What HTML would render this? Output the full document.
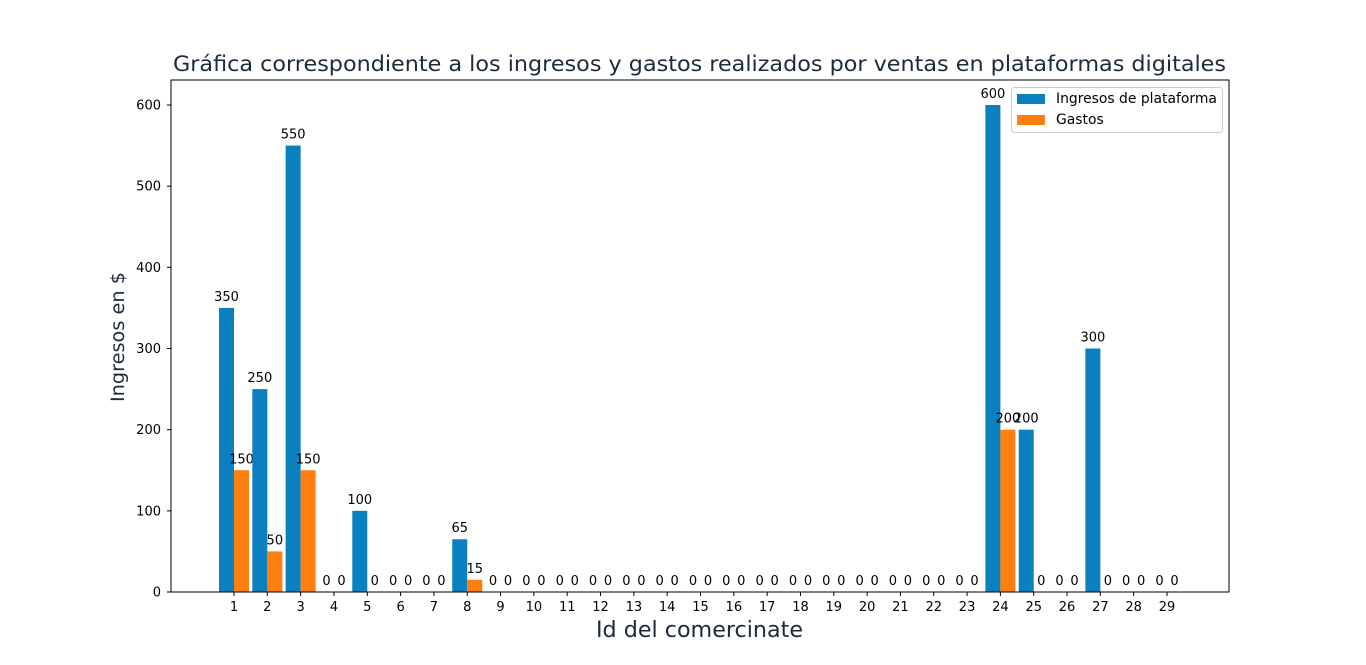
<!DOCTYPE html>
<html><head><meta charset="utf-8"><style>
body{margin:0;background:#fff;}
svg{display:block;font-family:"DejaVu Sans","Liberation Sans",sans-serif;}
</style></head><body>
<svg id="chart" width="1366" height="665">
<text x="173" y="71" font-size="21" fill="#1c2b3c" textLength="1053" lengthAdjust="spacingAndGlyphs">Gráfica correspondiente a los ingresos y gastos realizados por ventas en plataformas digitales</text>
<text transform="translate(124,337) rotate(-90)" text-anchor="middle" font-size="19" fill="#1c2b3c" textLength="130" lengthAdjust="spacingAndGlyphs">Ingresos en $</text>
<text x="699.5" y="637" text-anchor="middle" font-size="22" fill="#1c2b3c" textLength="207" lengthAdjust="spacingAndGlyphs">Id del comercinate</text>
<g id="marks"></g>
<rect x="171" y="80" width="1058" height="512" fill="none" stroke="#000" stroke-width="1"/>
<g>
<rect x="1011.5" y="87.5" width="211" height="45" rx="3" fill="#fff" fill-opacity="0.8" stroke="#ccc"/>
<rect x="1017" y="94" width="28" height="10" fill="#0a80c0"/>
<text x="1056" y="103" font-size="13.9">Ingresos de plataforma</text>
<rect x="1017" y="115" width="28" height="10" fill="#ff7f0e"/>
<text x="1056" y="124" font-size="13.9">Gastos</text>
</g>
</svg>
<script>
const categories=[1,2,3,4,5,6,7,8,9,10,11,12,13,14,15,16,17,18,19,20,21,22,23,24,25,26,27,28,29];
const ingresos=[350,250,550,0,100,0,0,65,0,0,0,0,0,0,0,0,0,0,0,0,0,0,0,600,200,0,300,0,0];
const gastos=[150,50,150,0,0,0,0,15,0,0,0,0,0,0,0,0,0,0,0,0,0,0,0,200,0,0,0,0,0];
const yTicks=[0,100,200,300,400,500,600];
const NS="http://www.w3.org/2000/svg";
const g=document.getElementById('marks');
const xOf=i=>234+(i-1)*(933/28);
const yOf=v=>592-v*(487/600);
const bw=15;
function mk(t,a){const e=document.createElementNS(NS,t);for(const k in a)e.setAttribute(k,a[k]);g.appendChild(e);return e;}
yTicks.forEach(v=>{
 const l=mk('line',{x1:167,x2:171,y1:yOf(v),y2:yOf(v),stroke:'#000'});
 
 
 const t=mk('text',{x:161,y:yOf(v)+4.5,'text-anchor':'end','font-size':13});
 t.textContent=v;
 
 
});
categories.forEach((c,i)=>{
 const x=xOf(c);
 const l=mk('line',{x1:x,x2:x,y1:592,y2:596,stroke:'#000'});
 
 
 const t=mk('text',{x:x,y:611,'text-anchor':'middle','font-size':13});
 t.textContent=c;
 
 
 [[ingresos[i],x-bw,'#0a80c0','bar-ingresos'],[gastos[i],x,'#ff7f0e','bar-gastos']].forEach(([v,bx,col,nm])=>{
  const r=mk('rect',{x:bx,y:yOf(v),width:bw,height:592-yOf(v),fill:col});
  
  
  const lb=mk('text',{x:bx+bw/2,y:yOf(v)-7,'text-anchor':'middle','font-size':13});
  lb.textContent=v;
  
  
 });
});
</script>
</body></html>
